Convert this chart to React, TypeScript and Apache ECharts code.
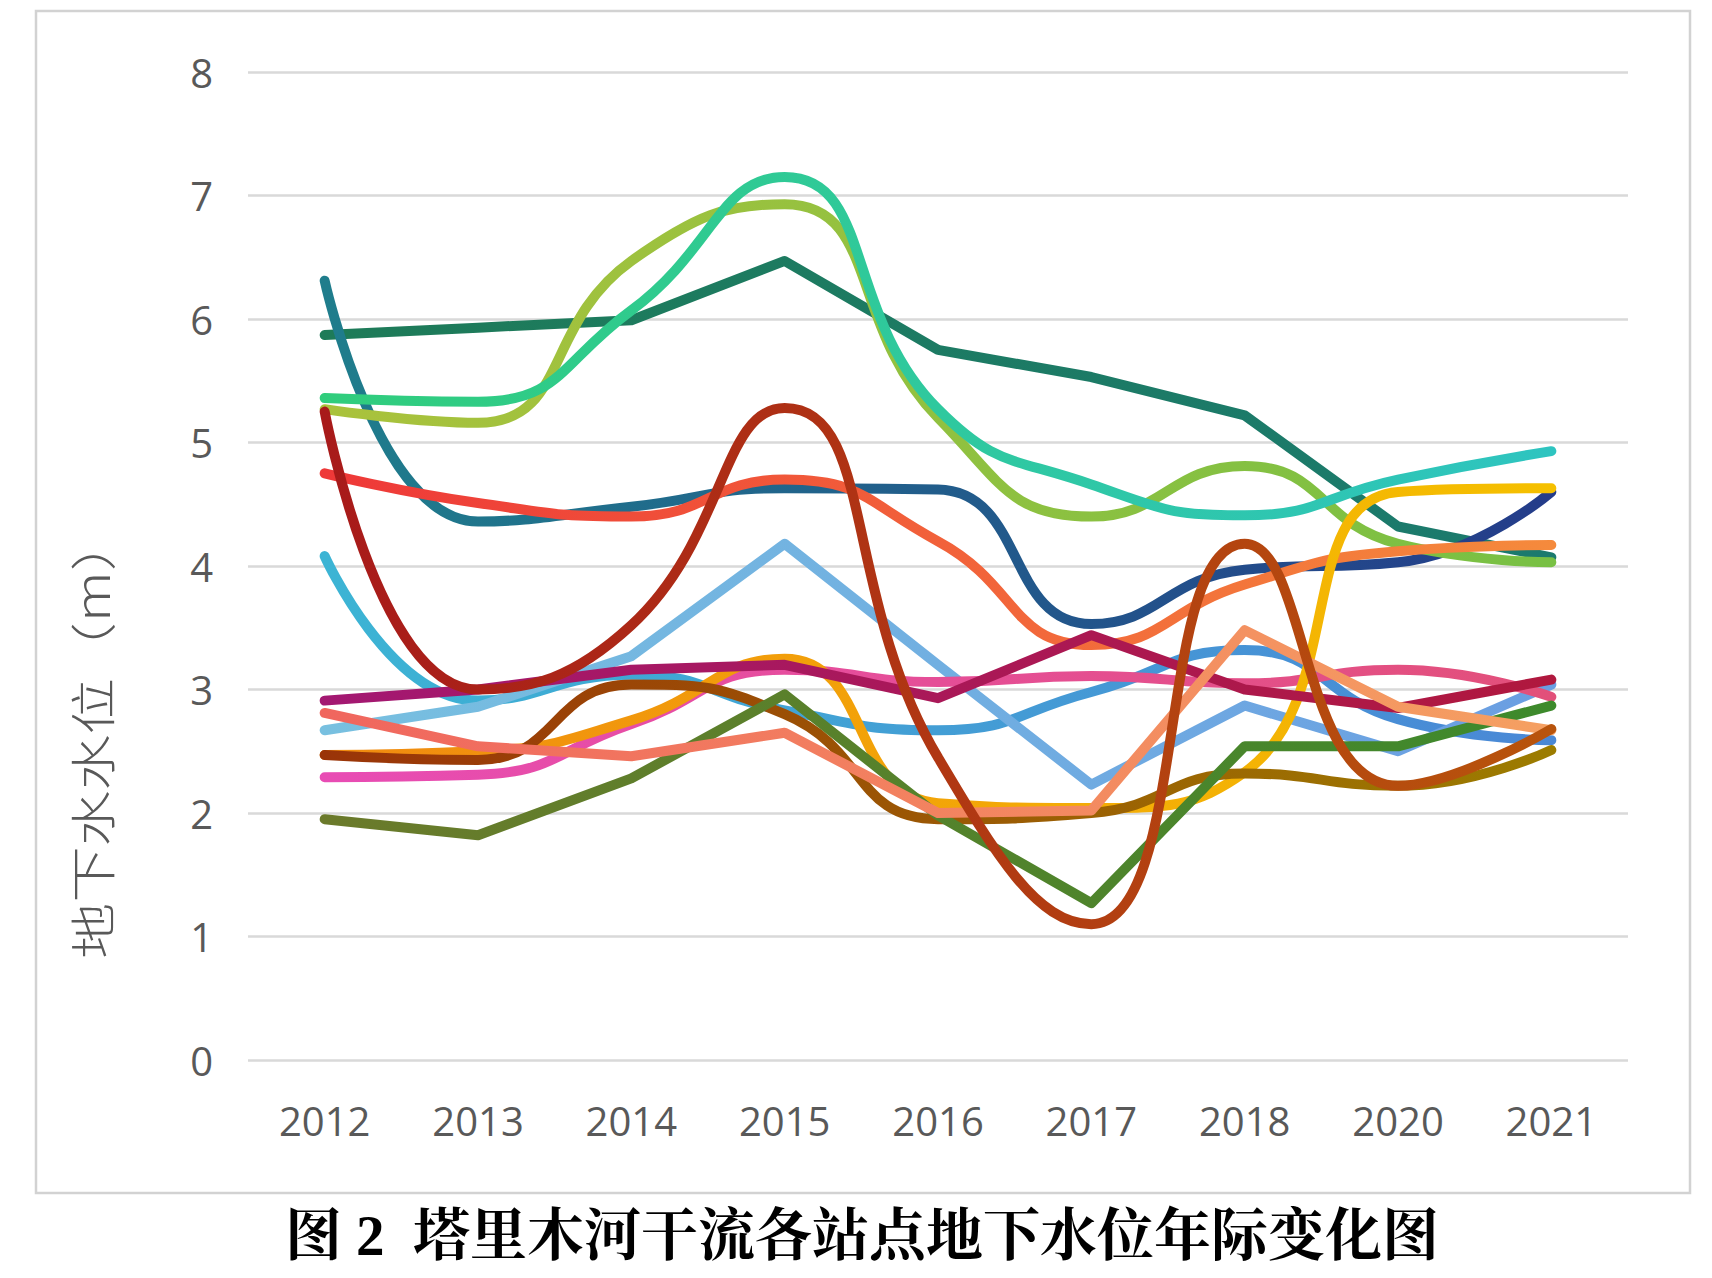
import React, { useEffect, useRef } from "react";
import * as echarts from "echarts";

const categories = ["2012", "2013", "2014", "2015", "2016", "2017", "2018", "2020", "2021"];
const yTicks = [0, 1, 2, 3, 4, 5, 6, 7, 8];

const darkGreen = [5.87, 5.93, 5.99, 6.47, 5.75, 5.53, 5.22, 4.32, 4.07];
const greenCyan = [5.36, 5.33, 6.07, 7.15, 5.27, 4.66, 4.41, 4.7, 4.93];
const yellowGreen = [5.27, 5.16, 6.47, 6.93, 5.2, 4.4, 4.81, 4.18, 4.03];
const tealNavy = [6.31, 4.36, 4.48, 4.63, 4.62, 3.53, 3.97, 4.03, 4.6];
const redOrange = [4.75, 4.51, 4.4, 4.7, 4.2, 3.36, 3.85, 4.12, 4.17];
const darkRedBrown = [5.25, 3.0, 3.52, 5.28, 2.45, 1.1, 4.18, 2.22, 2.68];
const cyanBlue = [4.08, 2.91, 3.12, 2.83, 2.67, 2.98, 3.32, 2.76, 2.59];
const lightBlue = [2.67, 2.86, 3.27, 4.18, 3.2, 2.23, 2.87, 2.5, 3.04];
const purple = [2.91, 3.0, 3.16, 3.2, 2.93, 3.44, 3.0, 2.85, 3.08];
const pink = [2.29, 2.31, 2.72, 3.16, 3.06, 3.11, 3.05, 3.16, 2.94];
const salmon = [2.81, 2.54, 2.46, 2.65, 2.0, 2.02, 3.48, 2.86, 2.67];
const orangeGold = [2.47, 2.5, 2.75, 3.25, 2.08, 2.04, 2.33, 4.6, 4.63];
const brownOlive = [2.47, 2.43, 3.04, 2.8, 1.95, 2.0, 2.32, 2.22, 2.51];
const oliveGreen = [1.95, 1.82, 2.28, 2.96, 1.98, 1.27, 2.54, 2.54, 2.87];

const seriesDefs = [
  { name: "s1", data: darkGreen, smooth: false, c0: "#1e7b58", c1: "#1b7a6e" },
  { name: "s4", data: tealNavy, smooth: true, c0: "#1f7d8c", c1: "#243c8a" },
  { name: "s3", data: yellowGreen, smooth: true, c0: "#aac23c", c1: "#78c044" },
  { name: "s2", data: greenCyan, smooth: true, c0: "#30cd7c", c1: "#2ec4c0" },
  { name: "s5", data: redOrange, smooth: true, c0: "#ee3838", c1: "#f58a3c" },
  { name: "s7", data: cyanBlue, smooth: true, c0: "#3cb4d4", c1: "#4a88d6" },
  { name: "s8", data: lightBlue, smooth: false, c0: "#78c0e0", c1: "#6a9ee2" },
  { name: "s10", data: pink, smooth: true, c0: "#e84cb4", c1: "#e2507a" },
  { name: "s12", data: orangeGold, smooth: true, c0: "#f08a10", c1: "#f5c000" },
  { name: "s13", data: brownOlive, smooth: true, c0: "#9a3408", c1: "#9c7c00" },
  { name: "s9", data: purple, smooth: false, c0: "#a31872", c1: "#b0183e" },
  { name: "s14", data: oliveGreen, smooth: false, c0: "#6b7a2b", c1: "#3d8a2c" },
  { name: "s11", data: salmon, smooth: false, c0: "#f0665e", c1: "#f5a062" },
  { name: "s6", data: darkRedBrown, smooth: true, c0: "#a81a1a", c1: "#b8540c" },
];

export default function App() {
  const ref = useRef<HTMLDivElement>(null);

  useEffect(() => {
    if (!ref.current) return;
    const chart = echarts.init(ref.current, null, { renderer: "svg" });
    const labelFont = "'Open Sans', 'Noto Sans', sans-serif";
    chart.setOption({
      animation: false,
      backgroundColor: "#ffffff",
      grid: { left: 248, right: 84, top: 72, bottom: 218, containLabel: false },
      xAxis: {
        type: "category",
        data: categories,
        boundaryGap: true,
        axisLine: { show: false },
        axisTick: { show: false },
        axisLabel: { color: "#595959", fontSize: 40, fontFamily: labelFont, margin: 40 },
        splitLine: { show: false },
      },
      yAxis: {
        type: "value",
        min: yTicks[0],
        max: yTicks[yTicks.length - 1],
        interval: 1,
        axisLine: { show: false },
        axisTick: { show: false },
        axisLabel: { color: "#595959", fontSize: 40, fontFamily: labelFont, margin: 35 },
        splitLine: { show: true, lineStyle: { color: "#d9d9d9", width: 2.5 } },
      },
      graphic: [
        {
          type: "rect",
          shape: { x: 36, y: 11, width: 1654, height: 1182 },
          style: { fill: "none", stroke: "#d2d2d2", lineWidth: 2.5 },
          z: -10,
        },
        {
          type: "text",
          x: 90,
          y: 737,
          rotation: Math.PI / 2,
          scaleX: 1.22,
          style: {
            text: "地下水水位（m）",
            fill: "#595959",
            fontSize: 46,
            fontWeight: 300,
            fontFamily: "'Noto Sans CJK SC', sans-serif",
            align: "center",
            verticalAlign: "middle",
            textAlign: "center",
            textVerticalAlign: "middle",
          },
        },
        {
          type: "text",
          x: 862,
          y: 1235,
          style: {
            text: "图 2  塔里木河干流各站点地下水位年际变化图",
            fill: "#000000",
            fontSize: 57,
            fontWeight: "bold",
            fontFamily: "'Liberation Serif', 'Noto Serif CJK SC', 'Noto Sans CJK SC', serif",
            align: "center",
            verticalAlign: "middle",
            textAlign: "center",
            textVerticalAlign: "middle",
          },
        },
      ],
      series: seriesDefs.map((s) => ({
        name: s.name,
        type: "line",
        data: s.data,
        smooth: s.smooth ? 0.5 : false,
        symbol: "none",
        lineStyle: {
          width: 10,
          cap: "round",
          join: "round",
          color: new echarts.graphic.LinearGradient(0, 0, 1, 0, [
            { offset: 0, color: s.c0 },
            { offset: 1, color: s.c1 },
          ]),
        },
      })),
    });
    return () => chart.dispose();
  }, []);

  return (
    <div
      ref={ref}
      style={{ position: "absolute", left: 0, top: 0, width: 1712, height: 1278, background: "#fff" }}
    />
  );
}
